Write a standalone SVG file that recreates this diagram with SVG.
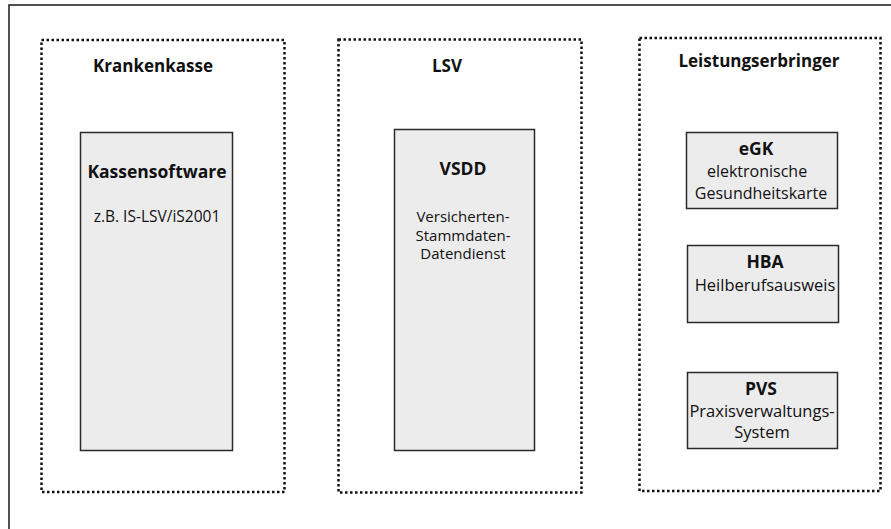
<svg xmlns="http://www.w3.org/2000/svg" width="891" height="529" viewBox="0 0 891 529">
<style>
.frame{fill:none;stroke:#1a1a1a;stroke-width:1.5}
.zone{fill:none;stroke:#111;stroke-width:2.5;stroke-dasharray:2.5 2.5}
.box{fill:#ececed;stroke:#2a2a2a;stroke-width:1.5}
text{font-family:"Open Sans","Noto Sans",sans-serif;fill:#111;text-anchor:middle}
.t{font-size:17px;font-weight:bold}
.b{font-size:17.5px;font-weight:bold}
.r{font-size:16.5px}
.re{font-size:16px}
.rk{font-size:15.5px}
.rv{font-size:15px}
</style>
<rect class="frame" x="9" y="5" width="900" height="600"/>
<g id="zone-krankenkasse">
<rect class="zone" x="41.5" y="40" width="243" height="452"/>
<text class="t" x="153" y="72">Krankenkasse</text>
</g>
<g id="zone-lsv">
<rect class="zone" x="338.5" y="39.5" width="243" height="453"/>
<text class="t" x="447" y="72">LSV</text>
</g>
<g id="zone-leistungserbringer">
<rect class="zone" x="639.5" y="38" width="241" height="453"/>
<text class="t" x="759" y="67">Leistungserbringer</text>
</g>
<g id="kassensoftware">
<rect class="box" x="80.5" y="132.5" width="152" height="318"/>
<text class="b" x="157" y="178">Kassensoftware</text>
<text class="rk" x="157" y="222">z.B. IS-LSV/iS2001</text>
</g>
<g id="vsdd">
<rect class="box" x="394.5" y="129.5" width="140" height="321"/>
<text class="b" x="463" y="175">VSDD</text>
<text class="rv" x="463" y="222">Versicherten-</text>
<text class="rv" x="463" y="240.5">Stammdaten-</text>
<text class="rv" x="463" y="259">Datendienst</text>
</g>
<g id="egk">
<rect class="box" x="686.5" y="132.5" width="151" height="76"/>
<text class="b" x="756" y="155">eGK</text>
<text class="re" x="757" y="177">elektronische</text>
<text class="re" x="761" y="199">Gesundheitskarte</text>
</g>
<g id="hba">
<rect class="box" x="687.5" y="245.5" width="151" height="77"/>
<text class="b" x="765" y="268">HBA</text>
<text class="r" x="765" y="291">Heilberufsausweis</text>
</g>
<g id="pvs">
<rect class="box" x="687.5" y="372.5" width="150" height="76"/>
<text class="b" x="761" y="395">PVS</text>
<text class="r" x="762" y="417">Praxisverwaltungs-</text>
<text class="r" x="762" y="438">System</text>
</g>
<g id="connectors"></g>
</svg>
